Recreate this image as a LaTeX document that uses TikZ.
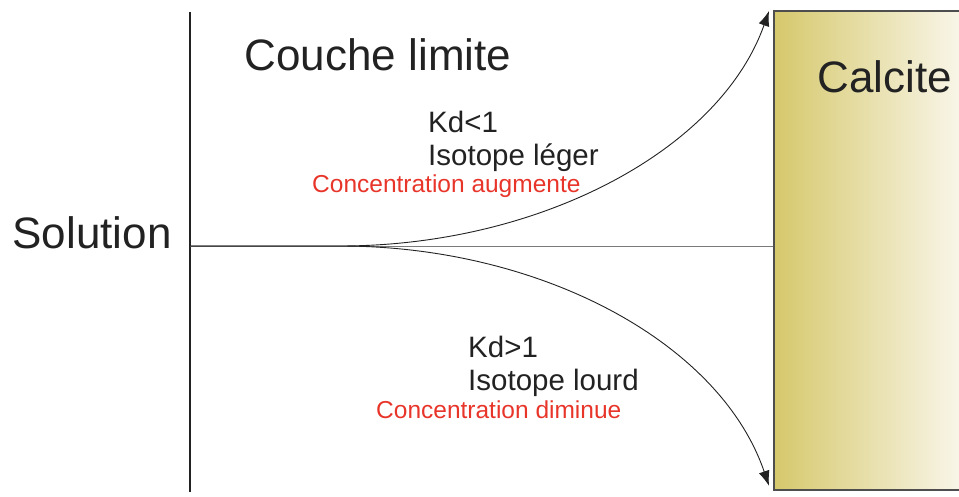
\documentclass[tikz,border=0pt]{standalone}
\usepackage{fontspec}
\setmainfont{Liberation Sans}
\usetikzlibrary{positioning, calc, arrows.meta}
\definecolor{ink}{HTML}{222222}
\definecolor{redtxt}{HTML}{E8352A}
\definecolor{ochre}{RGB}{214,200,108}
\definecolor{pale}{RGB}{251,249,242}
\begin{document}
\begin{tikzpicture}[x=1pt, y=-1pt]
		% 定义样式
		\tikzstyle{big} = [text=ink, font=\fontsize{44}{48}\selectfont, inner sep=0pt]
		\tikzstyle{mid} = [text=ink, font=\fontsize{29.5}{33}\selectfont, inner sep=0pt, anchor=west]
		\tikzstyle{note} = [text=redtxt, font=\fontsize{24.5}{28}\selectfont, inner sep=0pt, anchor=west]
		\tikzstyle{arrow} = [draw=ink, line width=0.9pt, -{Latex[length=15pt,width=11pt]}]
		\useasboundingbox (0,0) rectangle (959,497);
		
		% 绘制节点
		\node [draw=ink!80, line width=1.8pt, left color=ochre, right color=pale, minimum width=200pt, minimum height=479pt, anchor=north west, inner sep=0pt] (calcite) at (773,10) {};
		\node [big] (calcitetxt) at (885,77) {Calcite};
		\node [big] (solution) at (92,233) {Solution};
		\node [big] (couche) at (378,55) {Couche limite};
		\coordinate (top) at (190,12);
		\coordinate (bottom) at (190,492);
		\coordinate (origin) at (190,246);
		\coordinate (split) at (340,246);
		\node [mid] (kdlow) at (428,122) {Kd<1};
		\node [mid, below=11pt of kdlow.south west, anchor=north west] (leger) {Isotope léger};
		\node [note] (augmente) at (312,186) {Concentration augmente};
		\node [mid] (kdhigh) at (468,347) {Kd>1};
		\node [mid, below=11pt of kdhigh.south west, anchor=north west] (lourd) {Isotope lourd};
		\node [note] (diminue) at (376,410) {Concentration diminue};
		
		% 绘制线条
		\draw [ink, line width=2.6pt] (top) -- (bottom);
		\draw [ink!60, line width=0.8pt] (origin) -- (calcite.west |- origin);
		\draw [arrow] (origin) -- (split) .. controls (540,246) and (720,150) .. ([xshift=-4pt,yshift=-1pt]calcite.north west);
		\draw [arrow] (origin) -- (split) .. controls (540,246) and (720,342) .. ([xshift=-4pt,yshift=5pt]calcite.south west);
\end{tikzpicture}
\end{document}
